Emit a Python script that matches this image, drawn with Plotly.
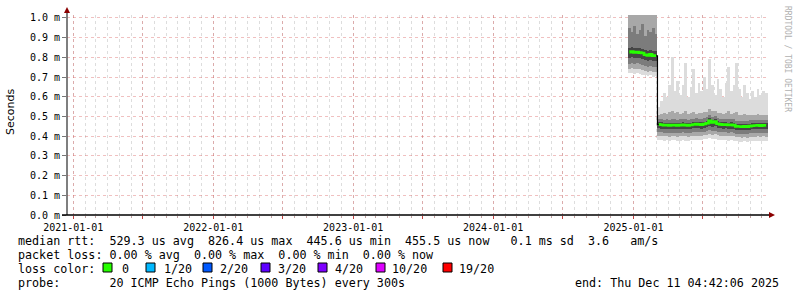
import plotly.graph_objects as go
import pandas as pd

# ---------------- data (round-trip times in milliseconds) ----------------
week_start = "2024-12-21"
n_points = 52
seg1_len = 11          # first block (before the drop)
dates = pd.date_range(week_start, periods=n_points, freq="7D")

rtt_median = [0.826, 0.829, 0.825, 0.827, 0.824, 0.822, 0.813, 0.810, 0.815, 0.809, 0.808,
              0.460, 0.458, 0.456, 0.457, 0.455, 0.456, 0.457, 0.455, 0.456, 0.458,
              0.456, 0.455, 0.457, 0.459, 0.461, 0.460, 0.458, 0.462, 0.466, 0.478,
              0.470, 0.474, 0.463, 0.460, 0.458, 0.459, 0.457, 0.458, 0.456, 0.450,
              0.449, 0.448, 0.450, 0.448, 0.451, 0.453, 0.454, 0.455, 0.453, 0.455, 0.454]
rtt_max = [1.28, 1.31, 1.27, 1.33, 1.29, 1.30, 1.26, 1.32, 1.28, 1.30, 1.27,
           0.55, 0.58, 0.62, 0.60, 0.66, 0.80, 0.63, 0.68, 0.61, 0.66,
           0.77, 0.60, 0.65, 0.74, 0.62, 0.67, 0.63, 0.70, 0.64, 0.79,
           0.66, 0.61, 0.69, 0.64, 0.60, 0.67, 0.75, 0.63, 0.66, 0.77,
           0.64, 0.60, 0.66, 0.62, 0.59, 0.63, 0.60, 0.64, 0.61, 0.63, 0.62]
rtt_hi_a = [1.12, 1.10, 1.15, 1.08, 1.11, 1.09, 1.13, 1.10, 1.07, 1.12, 1.09,
            0.510, 0.515, 0.520, 0.512, 0.525, 0.530, 0.518, 0.522, 0.514, 0.520,
            0.528, 0.512, 0.518, 0.525, 0.515, 0.520, 0.516, 0.524, 0.522, 0.540,
            0.530, 0.528, 0.520, 0.516, 0.512, 0.518, 0.526, 0.514, 0.520, 0.524,
            0.510, 0.506, 0.512, 0.508, 0.505, 0.510, 0.508, 0.512, 0.506, 0.510, 0.508]
rtt_hi_b = [0.95, 0.93, 0.96, 0.92, 0.94, 0.97, 0.91, 0.94, 0.93, 0.95, 0.92,
            0.485, 0.486, 0.484, 0.485, 0.483, 0.486, 0.487, 0.484, 0.485, 0.488,
            0.486, 0.484, 0.486, 0.489, 0.490, 0.489, 0.487, 0.491, 0.495, 0.505,
            0.498, 0.500, 0.492, 0.489, 0.487, 0.488, 0.486, 0.487, 0.485, 0.479,
            0.478, 0.477, 0.479, 0.477, 0.480, 0.482, 0.483, 0.484, 0.482, 0.484, 0.483]
rtt_hi_c = [0.850, 0.852, 0.848, 0.850, 0.846, 0.844, 0.836, 0.833, 0.838, 0.832, 0.831,
            0.472, 0.470, 0.468, 0.469, 0.467, 0.468, 0.469, 0.467, 0.468, 0.470,
            0.468, 0.467, 0.469, 0.471, 0.473, 0.472, 0.470, 0.474, 0.478, 0.490,
            0.482, 0.486, 0.475, 0.472, 0.470, 0.471, 0.469, 0.470, 0.468, 0.462,
            0.461, 0.460, 0.462, 0.460, 0.463, 0.465, 0.466, 0.467, 0.465, 0.467, 0.466]
rtt_lo_c = [0.798, 0.800, 0.796, 0.799, 0.795, 0.792, 0.786, 0.782, 0.787, 0.781, 0.780,
            0.440, 0.439, 0.437, 0.438, 0.436, 0.437, 0.438, 0.436, 0.437, 0.439,
            0.437, 0.436, 0.438, 0.440, 0.441, 0.440, 0.439, 0.442, 0.445, 0.452,
            0.447, 0.450, 0.443, 0.440, 0.439, 0.440, 0.438, 0.439, 0.437, 0.432,
            0.431, 0.430, 0.432, 0.430, 0.433, 0.434, 0.435, 0.436, 0.434, 0.436, 0.435]
rtt_lo_b = [0.768, 0.770, 0.766, 0.769, 0.765, 0.762, 0.756, 0.752, 0.757, 0.751, 0.750,
            0.420, 0.419, 0.417, 0.418, 0.416, 0.417, 0.418, 0.416, 0.417, 0.419,
            0.417, 0.416, 0.418, 0.420, 0.421, 0.420, 0.419, 0.422, 0.424, 0.430,
            0.426, 0.428, 0.422, 0.420, 0.419, 0.420, 0.418, 0.419, 0.417, 0.413,
            0.412, 0.411, 0.413, 0.411, 0.414, 0.415, 0.416, 0.417, 0.415, 0.417, 0.416]
rtt_lo_a = [0.742, 0.745, 0.740, 0.743, 0.739, 0.736, 0.730, 0.726, 0.731, 0.725, 0.724,
            0.402, 0.401, 0.399, 0.400, 0.398, 0.399, 0.400, 0.398, 0.399, 0.401,
            0.399, 0.398, 0.400, 0.402, 0.403, 0.402, 0.401, 0.404, 0.406, 0.410,
            0.407, 0.409, 0.404, 0.402, 0.401, 0.402, 0.400, 0.401, 0.399, 0.395,
            0.394, 0.393, 0.395, 0.393, 0.396, 0.397, 0.398, 0.399, 0.397, 0.399, 0.398]
rtt_min = [0.720, 0.722, 0.718, 0.720, 0.716, 0.712, 0.708, 0.704, 0.709, 0.702, 0.703,
           0.382, 0.380, 0.378, 0.381, 0.377, 0.379, 0.380, 0.376, 0.378, 0.381,
           0.378, 0.377, 0.379, 0.382, 0.383, 0.381, 0.380, 0.384, 0.386, 0.389,
           0.385, 0.388, 0.383, 0.381, 0.379, 0.380, 0.378, 0.380, 0.377, 0.374,
           0.373, 0.372, 0.374, 0.372, 0.375, 0.376, 0.377, 0.378, 0.376, 0.378, 0.377]

y_tick_vals = [0.0, 0.1, 0.2, 0.3, 0.4, 0.5, 0.6, 0.7, 0.8, 0.9, 1.0]
y_tick_text = ["0.0 m", "0.1 m", "0.2 m", "0.3 m", "0.4 m", "0.5 m",
               "0.6 m", "0.7 m", "0.8 m", "0.9 m", "1.0 m"]
x_grid_dates = ["2021-01-01", "2021-07-01", "2022-01-01", "2022-07-01", "2023-01-01",
                "2023-07-01", "2024-01-01", "2024-07-01", "2025-01-01", "2025-07-01"]
x_tick_labels = ["2021-01-01", "2022-01-01", "2023-01-01", "2024-01-01", "2025-01-01"]

legend_rtt = "median rtt:  529.3 us avg  826.4 us max  445.6 us min  455.5 us now   0.1 ms sd  3.6   am/s"
legend_loss = "packet loss: 0.00 % avg  0.00 % max  0.00 % min  0.00 % now"
legend_probe = "probe:       20 ICMP Echo Pings (1000 Bytes) every 300s"
legend_end = "end: Thu Dec 11 04:42:06 2025"
loss_labels = ["0", "1/20", "2/20", "3/20", "4/20", "10/20", "19/20"]
loss_colors = ["#26ff00", "#00b8ff", "#0059ff", "#5e00ff", "#7e00ff", "#dd00ff", "#ff0000"]

# ---------------- layout geometry (pixels) ----------------
W, H = 797, 297
L, R, T, B = 67, 768, 15, 215
x_range = ["2020-12-15 14:00", "2025-12-17 18:00"]
y_range = [0, 1.015]
WEEK_MS = 7 * 24 * 3600 * 1000
MONO = "DejaVu Sans Mono"


def xp(px):
    return (px - L) / (R - L)


def yp(py):
    return (B - py) / (B - T)


fig = go.Figure()

bands = [(rtt_min, rtt_max, "#dcdcdc"),
         (rtt_lo_a, rtt_hi_a, "#a8a8a8"),
         (rtt_lo_b, rtt_hi_b, "#7c7c7c"),
         (rtt_lo_c, rtt_hi_c, "#464646")]
for lo, hi, col in bands:
    fig.add_trace(go.Bar(x=dates, base=lo, y=[h - l for l, h in zip(lo, hi)],
                         width=WEEK_MS, marker=dict(color=col, line=dict(width=0)),
                         hoverinfo="skip", showlegend=False))

# black thin median (shows on the big transition)
fig.add_trace(go.Scatter(x=dates, y=rtt_median, mode="lines",
                         line=dict(color="#000000", width=1.2, shape="hvh"),
                         hoverinfo="skip", showlegend=False))
# green median per segment (0 loss)
for sl in (slice(0, seg1_len), slice(seg1_len, n_points)):
    fig.add_trace(go.Scatter(x=dates[sl], y=rtt_median[sl], mode="lines",
                             line=dict(color=loss_colors[0], width=2.6, shape="hvh"),
                             hoverinfo="skip", showlegend=False))

grid_text = [d if d in x_tick_labels else "" for d in x_grid_dates]

fig.update_layout(
    width=W, height=H,
    margin=dict(l=L, r=W - R, t=T, b=H - B, pad=0),
    paper_bgcolor="white", plot_bgcolor="white",
    barmode="overlay", bargap=0,
    showlegend=False,
    font=dict(family=MONO, size=10, color="#000000"),
    xaxis=dict(
        type="date", range=x_range, showline=False, zeroline=False,
        tickmode="array", tickvals=x_grid_dates, ticktext=grid_text,
        ticks="outside", ticklen=3, tickcolor="#c04040", tickwidth=1,
        showgrid=True, gridcolor="rgba(215,90,90,0.38)", griddash="dot", gridwidth=1,
        minor=dict(dtick="M1", tick0="2021-01-01", showgrid=True,
                   gridcolor="rgba(170,170,170,0.4)", griddash="dot", gridwidth=1,
                   ticks="outside", ticklen=2, tickcolor="#c0a0a0"),
        tickfont=dict(family=MONO, size=10, color="#000000"),
        fixedrange=True,
    ),
    yaxis=dict(
        range=y_range, showline=False, zeroline=False,
        tickmode="array", tickvals=y_tick_vals, ticktext=y_tick_text,
        ticks="outside", ticklen=4, tickcolor="#777777",
        showgrid=True, gridcolor="rgba(215,90,90,0.38)", griddash="dot", gridwidth=1,
        tickfont=dict(family=MONO, size=10, color="#000000"),
        fixedrange=True,
    ),
)

shapes = []
# axes lines
shapes.append(dict(type="line", xref="paper", yref="paper",
                   x0=xp(L), x1=xp(L), y0=yp(B), y1=yp(11),
                   line=dict(color="#555555", width=1.5)))
shapes.append(dict(type="line", xref="paper", yref="paper",
                   x0=xp(62), x1=xp(771), y0=yp(B), y1=yp(B),
                   line=dict(color="#000000", width=1.6)))
# axis arrows
shapes.append(dict(type="path", xref="paper", yref="paper",
                   path=f"M {xp(64)} {yp(13)} L {xp(70)} {yp(13)} L {xp(67)} {yp(7)} Z",
                   fillcolor="#8b0000", line=dict(width=0)))
shapes.append(dict(type="path", xref="paper", yref="paper",
                   path=f"M {xp(769)} {yp(212)} L {xp(769)} {yp(218)} L {xp(775)} {yp(215)} Z",
                   fillcolor="#8b0000", line=dict(width=0)))

# loss colour boxes
sq_left = [103, 146, 203, 261, 318, 376, 443]
lab_left = [120, 162, 218, 276, 333, 390, 457]
for x0, col in zip(sq_left, loss_colors):
    shapes.append(dict(type="rect", xref="paper", yref="paper",
                       x0=xp(x0), x1=xp(x0 + 9), y0=yp(263), y1=yp(272),
                       fillcolor=col, line=dict(color="#000000", width=1)))

NB = "\u00a0"
annotations = []


def txt(text, px, py, size=11.7, anchor="left", color="#000000", family=MONO, angle=0):
    annotations.append(dict(text=text.replace(" ", NB), xref="paper", yref="paper",
                            x=xp(px), y=yp(py), xanchor=anchor, yanchor="middle",
                            showarrow=False, textangle=angle,
                            font=dict(family=family, size=size, color=color)))


txt(legend_rtt, 16, 241)
txt(legend_loss, 16, 255)
txt("loss color:", 16, 269)
for x0, lab in zip(lab_left, loss_labels):
    txt(lab, x0, 269)
txt(legend_probe, 16, 283)
txt(legend_end, 781, 283, anchor="right")
annotations.append(dict(text="Seconds", xref="paper", yref="paper", x=xp(10), y=yp(112),
                        xanchor="center", yanchor="middle", showarrow=False, textangle=-90,
                        font=dict(family="DejaVu Sans", size=11, color="#000000")))
annotations.append(dict(text="RRDTOOL / TOBI OETIKER".replace(" ", NB), xref="paper", yref="paper",
                        x=xp(787), y=yp(59), xanchor="center", yanchor="middle",
                        showarrow=False, textangle=90,
                        font=dict(family=MONO, size=8, color="#b0b0b0")))

fig.update_layout(shapes=shapes, annotations=annotations)
fig.write_html("out.html")
